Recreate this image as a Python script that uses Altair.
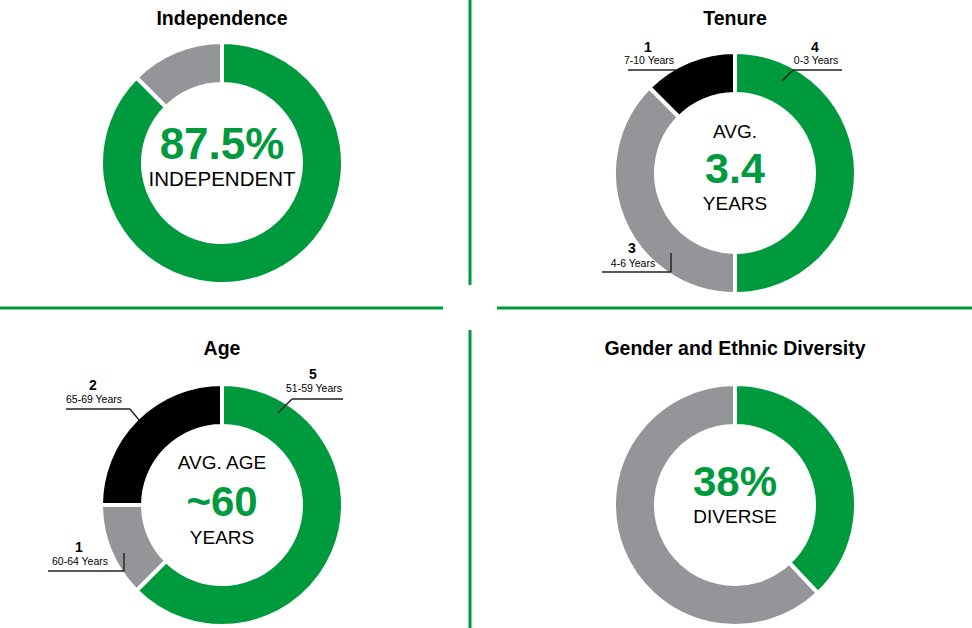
import altair as alt
import pandas as pd

GREEN = "#009a3e"
GREY = "#939598"
BLACK = "#000000"
LINE = "#231f20"
FONT = "Liberation Sans"

# ---- donut data ----
ind_labels = ["Independent", "Not independent"]
ind_values = [87.5, 12.5]
ind_colors = [GREEN, GREY]

ten_labels = ["0-3 Years", "4-6 Years", "7-10 Years"]
ten_values = [4, 3, 1]
ten_colors = [GREEN, GREY, BLACK]

age_labels = ["51-59 Years", "60-64 Years", "65-69 Years"]
age_values = [5, 1, 2]
age_colors = [GREEN, GREY, BLACK]

div_labels = ["Diverse", "Other"]
div_values = [38, 62]
div_colors = [GREEN, GREY]

# ---- panel layout ----
titles = ["Independence", "Tenure", "Age", "Gender and Ethnic Diversity"]
centers_x = [222, 735, 222, 735]
centers_y = [163, 173, 505, 505]
title_y = [25, 25, 355, 355]

# ---- centre texts ----
center_text = ["87.5%", "INDEPENDENT", "AVG.", "3.4", "YEARS",
               "AVG. AGE", "~60", "YEARS", "38%", "DIVERSE"]
center_panel = [0, 0, 1, 1, 1, 2, 2, 2, 3, 3]
center_dy = [-17, 17, -41, -3, 31, -42, -2, 33, -22, 12]
center_size = [44, 20.5, 19, 43, 19, 19, 42, 19, 42, 19]
center_bold = [True, False, False, True, False, False, True, False, True, False]

# ---- callouts ----
callout_count = ["1", "4", "3", "2", "5", "1"]
callout_text = ["7-10 Years", "0-3 Years", "4-6 Years",
                "65-69 Years", "51-59 Years", "60-64 Years"]
callout_x = [648, 815, 632, 93, 313, 79]
callout_count_y = [52, 52, 253, 390, 379, 552]
callout_text_y = [64, 64, 267, 403, 392, 565]

# leader line segments
leader_x1 = [628, 842, 793, 602, 671, 66, 130, 343, 292, 48, 124]
leader_y1 = [70, 70, 70, 272, 272, 409, 409, 399, 399, 571, 571]
leader_x2 = [676, 793, 782, 671, 671, 130, 139, 292, 278, 124, 124]
leader_y2 = [70, 70, 81, 272, 253, 409, 420, 399, 413, 571, 553]

# green dividers
div_x1 = [470, 470, 0, 497]
div_y1 = [0, 330, 308, 308]
div_x2 = [470, 470, 443, 972]
div_y2 = [285, 628, 308, 308]

layers = []

donuts = [
    (ind_labels, ind_values, ind_colors),
    (ten_labels, ten_values, ten_colors),
    (age_labels, age_values, age_colors),
    (div_labels, div_values, div_colors),
]
for k, (labs, vals, cols) in enumerate(donuts):
    df = pd.DataFrame({"label": labs, "v": vals, "c": cols, "i": list(range(len(vals)))})
    arc = alt.Chart(df).mark_arc(
        innerRadius=79, outerRadius=121, stroke="white", strokeWidth=4
    ).encode(
        theta=alt.Theta("v:Q", stack=True),
        color=alt.Color("c:N", scale=None),
        order=alt.Order("i:Q"),
        x=alt.value(centers_x[k]),
        y=alt.value(centers_y[k]),
    )
    layers.append(arc)

# titles
tdf = pd.DataFrame({"t": titles, "x": centers_x, "y": title_y})
layers.append(
    alt.Chart(tdf).mark_text(font=FONT, fontSize=19.5, fontWeight="bold",
                             color="#000000", baseline="alphabetic", align="center")
    .encode(x=alt.X("x:Q", scale=None, axis=None), y=alt.Y("y:Q", scale=None, axis=None),
            text="t:N")
)

# centre texts
cdf = pd.DataFrame({
    "t": center_text,
    "x": [centers_x[p] for p in center_panel],
    "y": [centers_y[p] + d for p, d in zip(center_panel, center_dy)],
    "s": center_size,
    "b": center_bold,
})
big = cdf[cdf["b"]]
small = cdf[~cdf["b"]]
layers.append(
    alt.Chart(big).mark_text(font=FONT, fontWeight="bold", color=GREEN,
                             baseline="middle", align="center")
    .encode(x=alt.X("x:Q", scale=None, axis=None), y=alt.Y("y:Q", scale=None, axis=None),
            text="t:N", size=alt.Size("s:Q", scale=None, legend=None))
)
layers.append(
    alt.Chart(small).mark_text(font=FONT, fontWeight="normal", color="#000000",
                               baseline="middle", align="center")
    .encode(x=alt.X("x:Q", scale=None, axis=None), y=alt.Y("y:Q", scale=None, axis=None),
            text="t:N", size=alt.Size("s:Q", scale=None, legend=None))
)

# leader lines
ldf = pd.DataFrame({"x": leader_x1, "y": leader_y1, "x2": leader_x2, "y2": leader_y2})
layers.append(
    alt.Chart(ldf).mark_rule(color=LINE, strokeWidth=1.4)
    .encode(x=alt.X("x:Q", scale=None, axis=None), y=alt.Y("y:Q", scale=None, axis=None),
            x2="x2:Q", y2="y2:Q")
)

# callout texts
codf = pd.DataFrame({"n": callout_count, "t": callout_text, "x": callout_x,
                     "y1": callout_count_y, "y2": callout_text_y})
layers.append(
    alt.Chart(codf).mark_text(font=FONT, fontSize=14, fontWeight="bold", color="#000000",
                              baseline="alphabetic", align="center")
    .encode(x=alt.X("x:Q", scale=None, axis=None), y=alt.Y("y1:Q", scale=None, axis=None),
            text="n:N")
)
layers.append(
    alt.Chart(codf).mark_text(font=FONT, fontSize=10.5, color="#000000",
                              baseline="alphabetic", align="center", dx=1)
    .encode(x=alt.X("x:Q", scale=None, axis=None), y=alt.Y("y2:Q", scale=None, axis=None),
            text="t:N")
)

# green dividers
gdf = pd.DataFrame({"x": div_x1, "y": div_y1, "x2": div_x2, "y2": div_y2})
layers.append(
    alt.Chart(gdf).mark_rule(color=GREEN, strokeWidth=3)
    .encode(x=alt.X("x:Q", scale=None, axis=None), y=alt.Y("y:Q", scale=None, axis=None),
            x2="x2:Q", y2="y2:Q")
)

chart = (
    alt.layer(*layers)
    .resolve_scale(theta="independent")
    .properties(width=972, height=628, padding=0,
                autosize=alt.AutoSizeParams(type="none"), background="white")
    .configure_view(stroke=None)
)

chart.save("out.html", embed_options={"renderer": "svg", "actions": False})
